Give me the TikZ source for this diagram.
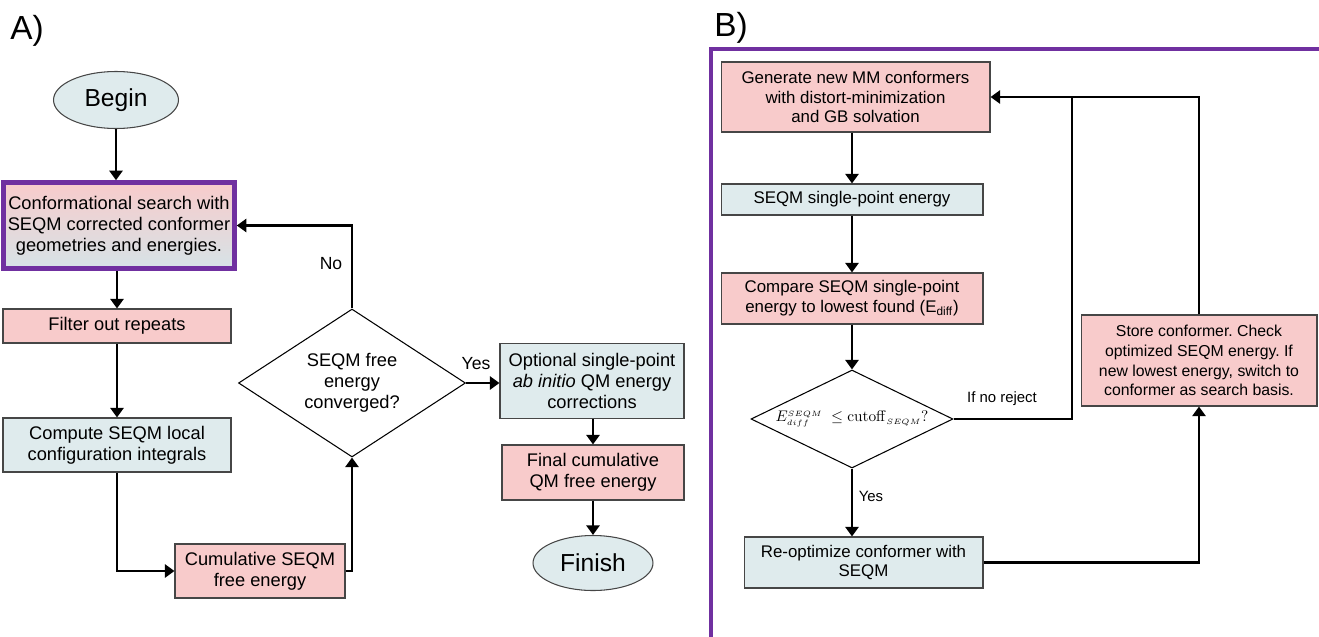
\documentclass[tikz,border=0pt]{standalone}
\usepackage[no-math]{fontspec}
\usepackage{graphicx}
\setmainfont{Liberation Sans}
\frenchspacing
\usetikzlibrary{arrows.meta,shapes.geometric}
\definecolor{pinkf}{RGB}{248,203,203}
\definecolor{bluef}{RGB}{223,235,237}
\definecolor{gradb}{RGB}{214,227,231}
\definecolor{edgec}{RGB}{70,70,70}
\definecolor{purp}{RGB}{112,48,160}
\begin{document}
\begin{tikzpicture}[x=0.02cm,y=-0.02cm,
  box/.style={draw=edgec, line width=0.6pt, inner sep=0pt, align=center, font=\fontsize{10.4}{12}\selectfont},
  pinkbox/.style={box, fill=pinkf},
  bluebox/.style={box, fill=bluef},
  bbox/.style={box, font=\fontsize{9.6}{11.3}\selectfont},
  bpink/.style={bbox, fill=pinkf},
  bblue/.style={bbox, fill=bluef},
  term/.style={ellipse, draw=edgec, line width=0.6pt, fill=bluef, inner sep=0pt, font=\fontsize{14}{16}\selectfont},
  decision/.style={diamond, draw=black, line width=0.6pt, fill=white, inner sep=0pt, align=center},
  arr/.style={line width=1.5pt, -{Triangle[length=5.5pt,width=7.5pt]}},
  conn/.style={line width=1.5pt},
  lbl/.style={inner sep=0pt, font=\fontsize{10}{12}\selectfont},
  blbl/.style={inner sep=0pt, font=\fontsize{8.5}{10}\selectfont},
  panel/.style={inner sep=0pt, font=\fontsize{19}{23}\selectfont}
]
\useasboundingbox (0,0) rectangle (1319,636);

% ---------- Panel A ----------
\node[panel] (labA) at (27,31) {A)};
\node[term, minimum width=2.5cm, minimum height=1.14cm] (begin) at (116,100) {Begin};
\node[box, draw=purp, line width=2.6pt, top color=pinkf, bottom color=gradb,
      minimum width=4.62cm, minimum height=1.72cm] (conf) at (119,225.5)
  {Conformational search with\\SEQM corrected conformer\\geometries and energies.};
\node[pinkbox, minimum width=4.56cm, minimum height=0.68cm] (filter) at (117,326) {Filter out repeats};
\node[bluebox, minimum width=4.56cm, minimum height=1.08cm] (compute) at (117,445)
  {Compute SEQM local\\configuration integrals};
\node[pinkbox, minimum width=3.4cm, minimum height=1.08cm] (cumul) at (260,571)
  {Cumulative SEQM\\free energy};
\node[decision, shape aspect=1.53, minimum width=4.54cm, minimum height=2.96cm,
      font=\fontsize{10.4}{12}\selectfont] (decA) at (352,383)
  {SEQM free\\energy\\converged?};
\node[bluebox, minimum width=3.68cm, minimum height=1.5cm] (optional) at (592,381)
  {Optional single-point\\\textit{ab initio} QM energy\\corrections};
\node[pinkbox, minimum width=3.64cm, minimum height=1.1cm] (final) at (593,472.5)
  {Final cumulative\\QM free energy};
\node[term, minimum width=2.4cm, minimum height=1.1cm] (finish) at (593,563) {Finish};

\draw[arr] (begin.south) -- (conf.north -| begin.south);
\draw[arr] (filter.north |- conf.south) -- (filter.north);
\draw[arr] (filter.south) -- (compute.north);
\draw[arr] (compute.south) |- (cumul.west);
\draw[arr] (cumul.east) -| (decA.south);
\draw[arr] (decA.north) |- (conf.east);
\draw[arr] (decA.east) -- (decA.east -| optional.west);
\draw[arr] (final.north |- optional.south) -- (final.north);
\draw[arr] (final.south) -- (finish.north);
\node[lbl] (no) at (331,264) {No};
\node[lbl] (yesA) at (476,364) {Yes};

% ---------- Panel B ----------
\node[panel] (labB) at (731,28) {B)};
\draw[purp, line width=2.8pt] (1330,49) -- (711,49) -- (711,650);

\node[bpink, minimum width=5.38cm, minimum height=1.4cm] (gen) at (855.5,97)
  {Generate new MM conformers\\with distort-minimization\\and GB solvation};
\node[bblue, minimum width=5.24cm, minimum height=0.62cm] (sp) at (852,199.5)
  {SEQM single-point energy};
\node[bpink, minimum width=5.24cm, minimum height=1.02cm] (cmp) at (852,298.5)
  {Compare SEQM single-point\\energy to lowest found (E\textsubscript{diff})};
\node[decision, shape aspect=2.06, minimum width=4.04cm, minimum height=1.96cm,
      font=\fontsize{10}{11}\selectfont] (decB) at (852,419)
  {\makebox[0pt]{\resizebox{3.06cm}{!}{$E^{\scriptscriptstyle SEQM}_{\scriptscriptstyle diff}\;\le \mathrm{cutoff}_{\scriptscriptstyle SEQM}?$}}};
\node[bblue, minimum width=4.78cm, minimum height=1.02cm] (reopt) at (863.5,562.5)
  {Re-optimize conformer with\\SEQM};
\node[bpink, font=\fontsize{9}{11.3}\selectfont, minimum width=4.72cm, minimum height=1.82cm] (store) at (1199,360.5)
  {Store conformer. Check\\optimized SEQM energy. If\\new lowest energy, switch to\\conformer as search basis.};
\coordinate (j) at (1072,97);

\draw[arr] (sp.north |- gen.south) -- (sp.north);
\draw[arr] (sp.south) -- (cmp.north);
\draw[arr] (cmp.south) -- (decB.north);
\draw[arr] (decB.south) -- (decB.south |- reopt.north);
\draw[conn] (decB.east) -| (j);
\draw[arr] (store.north) |- (gen.east);
\draw[arr] (reopt.east) -| (store.south);
\node[blbl] (rej) at (1002,399) {If no reject};
\node[blbl] (yesB) at (871,496) {Yes};
\end{tikzpicture}
\end{document}
